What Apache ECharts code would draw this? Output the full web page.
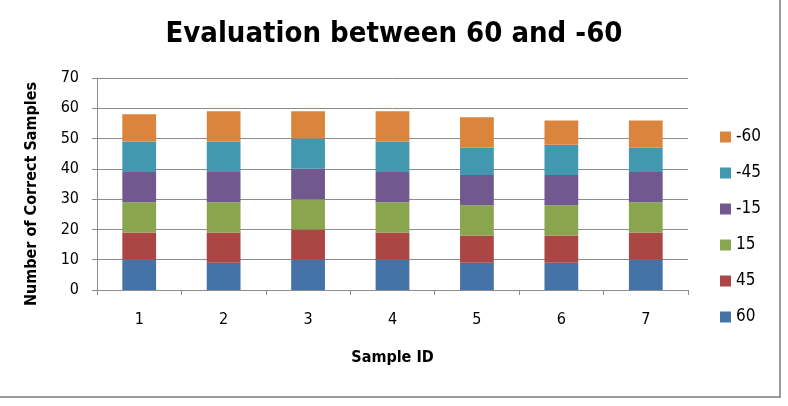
<!DOCTYPE html>
<html>
<head>
<meta charset="utf-8">
<script src="https://cdn.jsdelivr.net/npm/echarts@6/dist/echarts.min.js"></script>
<style>
  html, body { margin: 0; padding: 0; background: #fff; }
  #chart { width: 788px; height: 406px; }
</style>
</head>
<body>
<div id="chart"></div>
<script>
var sampleIds = ['1', '2', '3', '4', '5', '6', '7'];
// stacked from bottom to top
var s60 = [10, 9, 10, 10, 9, 9, 10];
var s45 = [9, 10, 10, 9, 9, 9, 9];
var s15 = [10, 10, 10, 10, 10, 10, 10];
var sM15 = [10, 10, 10, 10, 10, 10, 10];
var sM45 = [10, 10, 10, 10, 9, 10, 8];
var sM60 = [9, 10, 9, 10, 10, 8, 9];
var legendOrder = ['-60', '-45', '-15', '15', '45', '60'];

var font = 'DejaVu Sans Condensed, DejaVu Sans, sans-serif';

function makeSeries(name, values, color) {
  return {
    name: name,
    type: 'bar',
    stack: 'total',
    barWidth: '40%',
    itemStyle: { color: color },
    data: values
  };
}

var chart = echarts.init(document.getElementById('chart'));
chart.setOption({
  backgroundColor: '#ffffff',
  animation: false,
  title: {
    text: 'Evaluation between 60 and -60',
    left: 'center',
    top: 15,
    textStyle: { fontFamily: font, fontSize: 29, fontWeight: 'bold', color: '#000' }
  },
  legend: {
    orient: 'vertical',
    left: 715,
    top: 122,
    itemWidth: 11,
    itemHeight: 11,
    itemGap: 16,
    icon: 'rect',
    textStyle: { fontFamily: font, fontSize: 17, lineHeight: 20, color: '#000' },
    data: legendOrder
  },
  grid: { left: 97, right: 100, top: 78, bottom: 116 },
  xAxis: {
    type: 'category',
    data: sampleIds,
    name: 'Sample ID',
    nameLocation: 'middle',
    nameGap: 60,
    nameTextStyle: { fontFamily: font, fontSize: 16, fontWeight: 'bold', color: '#000' },
    axisLine: { lineStyle: { color: '#8c8c8c', width: 1 } },
    axisTick: { show: true, length: 5, lineStyle: { color: '#8c8c8c' } },
    axisLabel: { fontFamily: font, fontSize: 16, color: '#000', margin: 22 }
  },
  yAxis: {
    type: 'value',
    min: 0,
    max: 70,
    interval: 10,
    axisLine: { show: true, lineStyle: { color: '#8c8c8c', width: 1 } },
    axisTick: { show: true, length: 5, lineStyle: { color: '#8c8c8c' } },
    axisLabel: { fontFamily: font, fontSize: 16, color: '#000', margin: 18 },
    splitLine: { lineStyle: { color: '#8c8c8c', width: 1 } }
  },
  graphic: [
    {
      type: 'text',
      x: 32,
      y: 194,
      rotation: Math.PI / 2,
      style: {
        text: 'Number of Correct Samples',
        font: 'bold 16px ' + font,
        fill: '#000',
        align: 'center',
        verticalAlign: 'middle'
      }
    },
    { type: 'line', shape: { x1: 780, y1: 0, x2: 780, y2: 397 }, style: { stroke: '#9a9a9a', lineWidth: 2 } },
    { type: 'line', shape: { x1: 0, y1: 397, x2: 781, y2: 397 }, style: { stroke: '#9a9a9a', lineWidth: 2 } }
  ],
  series: [
    makeSeries('60', s60, '#4572A7'),
    makeSeries('45', s45, '#AA4643'),
    makeSeries('15', s15, '#89A54E'),
    makeSeries('-15', sM15, '#71588F'),
    makeSeries('-45', sM45, '#4198AF'),
    makeSeries('-60', sM60, '#DB843D')
  ]
});
</script>
</body>
</html>
